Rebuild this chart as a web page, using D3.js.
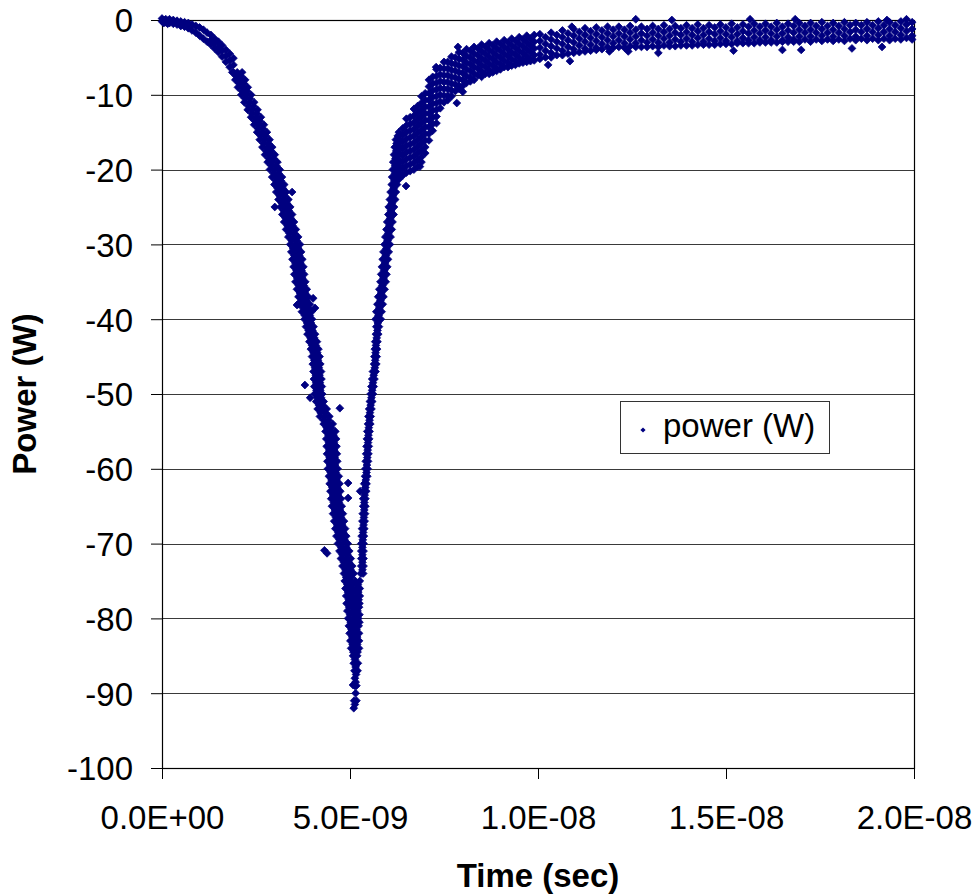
<!DOCTYPE html>
<html>
<head>
<meta charset="utf-8">
<script src="https://cdn.jsdelivr.net/npm/d3@7"></script>
<style>
  body { margin: 0; background: #fff; }
  text { font-family: Arial, "Liberation Sans", sans-serif; fill: #000; }
</style>
</head>
<body>
<div id="chart"></div>
<script>
// Power vs time scatter
// times are in ns, power in W

// early, nearly flat part: [t, p, p, ...]
var flatStart = [
  [0.0, 0.2, -0.2], [0.05, 0.0, -0.4], [0.1, 0.1, -0.3], [0.15, -0.1, -0.5],
  [0.2, 0.1, -0.4], [0.3, 0.0, -0.5], [0.4, -0.1, -0.6], [0.5, -0.2, -0.8],
  [0.6, -0.3, -0.9], [0.7, -0.4, -1.1], [0.8, -0.6, -1.4], [0.9, -0.8, -1.7],
  [1.0, -1.0, -2.1], [1.1, -1.3, -2.5], [1.2, -1.7, -2.9], [1.3, -2.0, -2.7, -3.3],
  [1.4, -2.5, -3.1, -3.8], [1.5, -2.9, -3.6, -4.3], [1.6, -3.4, -4.1, -4.9],
  [1.7, -4.0, -4.8, -5.6], [1.8, -4.5, -5.4, -6.3], [1.9, -5.1, -6.0, -7.0]
];

// falling edge, read by power level: [p, t, ...]
var leftBranch = [
  [-7, 1.87, 2.0, 2.13], [-7.5, 1.97, 2.1], [-8, 1.95, 2.08, 2.21], [-8.5, 2.05, 2.18],
  [-9, 2.02, 2.15, 2.28], [-9.5, 2.13, 2.26], [-10, 2.11, 2.24, 2.37], [-10.5, 2.21, 2.34],
  [-11, 2.19, 2.32, 2.45], [-11.5, 2.3, 2.43], [-12, 2.28, 2.41, 2.54], [-12.5, 2.39, 2.52],
  [-13, 2.37, 2.5, 2.63], [-13.5, 2.47, 2.6], [-14, 2.45, 2.58, 2.71], [-14.5, 2.55, 2.68],
  [-15, 2.53, 2.66, 2.79], [-15.5, 2.63, 2.76], [-16, 2.6, 2.73, 2.86], [-16.5, 2.7, 2.83],
  [-17, 2.67, 2.8, 2.93], [-17.5, 2.77, 2.9], [-18, 2.74, 2.87, 3.0], [-18.5, 2.84, 2.97],
  [-19, 2.81, 2.94, 3.07], [-19.5, 2.91, 3.04], [-20, 2.87, 3.0, 3.13], [-20.5, 2.97, 3.1],
  [-21, 2.93, 3.06, 3.19], [-21.5, 3.03, 3.16], [-22, 2.99, 3.12, 3.25], [-22.5, 3.08, 3.21],
  [-23, 3.04, 3.17, 3.3], [-23.5, 3.13, 3.26], [-24, 3.1, 3.23, 3.36], [-24.5, 3.19, 3.32],
  [-25, 3.15, 3.28, 3.41], [-25.5, 3.24, 3.37], [-26, 3.2, 3.33, 3.46], [-26.5, 3.29, 3.42],
  [-27, 3.25, 3.38, 3.51], [-27.5, 3.34, 3.47], [-28, 3.3, 3.43, 3.56], [-28.5, 3.39, 3.52],
  [-29, 3.36, 3.49, 3.62], [-29.5, 3.45, 3.58], [-30, 3.41, 3.54, 3.67], [-30.5, 3.49, 3.62],
  [-31, 3.44, 3.57, 3.7], [-31.5, 3.52, 3.65], [-32, 3.47, 3.6, 3.73], [-32.5, 3.55, 3.68],
  [-33, 3.5, 3.63, 3.76], [-33.5, 3.58, 3.71], [-34, 3.52, 3.65, 3.78], [-34.5, 3.6, 3.73],
  [-35, 3.55, 3.68, 3.81], [-35.5, 3.64, 3.77], [-36, 3.59, 3.72, 3.85], [-36.5, 3.67, 3.8],
  [-37, 3.63, 3.76, 3.89], [-37.5, 3.71, 3.84], [-38, 3.67, 3.8, 3.93], [-38.5, 3.76, 3.89],
  [-39, 3.72, 3.85, 3.98], [-39.5, 3.8, 3.93], [-40, 3.79, 3.89, 3.99], [-40.5, 3.86, 3.96],
  [-41, 3.83, 3.93, 4.03], [-41.5, 3.9, 4.0], [-42, 3.87, 3.97, 4.07], [-42.5, 3.95, 4.05],
  [-43, 3.92, 4.02, 4.12], [-43.5, 3.99, 4.09], [-44, 3.96, 4.06, 4.16], [-44.5, 4.03, 4.13],
  [-45, 3.99, 4.09, 4.19], [-45.5, 4.05, 4.15], [-46, 4.01, 4.11, 4.21], [-46.5, 4.07, 4.17],
  [-47, 4.03, 4.13, 4.23], [-47.5, 4.09, 4.19], [-48, 4.04, 4.14, 4.24], [-48.5, 4.1, 4.2],
  [-49, 4.05, 4.15, 4.25], [-49.5, 4.11, 4.21], [-50, 4.06, 4.16, 4.26], [-50.5, 4.13, 4.23],
  [-51, 4.1, 4.2, 4.3], [-51.5, 4.18, 4.28], [-52, 4.14, 4.26, 4.38], [-52.5, 4.22, 4.35],
  [-53, 4.2, 4.33, 4.45], [-53.5, 4.3, 4.43], [-54, 4.3, 4.42, 4.54], [-54.5, 4.38, 4.5],
  [-55, 4.35, 4.48, 4.61], [-55.5, 4.43, 4.56], [-56, 4.37, 4.5, 4.63], [-56.5, 4.44, 4.57],
  [-57, 4.38, 4.51, 4.64], [-57.5, 4.45, 4.58], [-58, 4.39, 4.52, 4.65], [-58.5, 4.46, 4.59],
  [-59, 4.4, 4.53, 4.66], [-59.5, 4.47, 4.6], [-60, 4.41, 4.54, 4.67], [-60.5, 4.49, 4.62],
  [-61, 4.44, 4.57, 4.7], [-61.5, 4.51, 4.64], [-62, 4.46, 4.59, 4.72], [-62.5, 4.53, 4.66],
  [-63, 4.48, 4.61, 4.74], [-63.5, 4.55, 4.68], [-64, 4.5, 4.63, 4.76], [-64.5, 4.57, 4.7],
  [-65, 4.52, 4.65, 4.78], [-65.5, 4.6, 4.73], [-66, 4.55, 4.68, 4.81], [-66.5, 4.63, 4.76],
  [-67, 4.58, 4.71, 4.84], [-67.5, 4.66, 4.79], [-68, 4.61, 4.74, 4.87], [-68.5, 4.69, 4.82],
  [-69, 4.64, 4.77, 4.9], [-69.5, 4.72, 4.85], [-70, 4.68, 4.81, 4.94], [-70.5, 4.77, 4.9],
  [-71, 4.72, 4.85, 4.98], [-71.5, 4.8, 4.93], [-72, 4.76, 4.89, 5.02], [-72.5, 4.84, 4.97],
  [-73, 4.8, 4.93, 5.06], [-73.5, 4.88, 5.01], [-74, 4.84, 4.97, 5.1], [-74.5, 4.9, 5.03]
];

// bottom of the dip where both edges meet: [p, t, ...]
var trough = [
  [-75, 4.86, 5.0, 5.14, 5.26], [-75.5, 4.93, 5.07, 5.21], [-76, 4.88, 5.02, 5.16, 5.26],
  [-76.5, 4.95, 5.09, 5.22], [-77, 4.9, 5.04, 5.18, 5.26], [-77.5, 4.97, 5.11, 5.23],
  [-78, 4.91, 5.05, 5.19, 5.25], [-78.5, 4.98, 5.12, 5.24], [-79, 4.93, 5.07, 5.2],
  [-79.5, 5.0, 5.14, 5.25], [-80, 4.95, 5.09, 5.22], [-80.5, 5.02, 5.15, 5.25],
  [-81, 4.97, 5.1, 5.23], [-81.5, 5.04, 5.17], [-82, 4.99, 5.12, 5.24], [-82.5, 5.06, 5.19],
  [-83, 5.01, 5.13, 5.24], [-83.5, 5.07, 5.19], [-84, 5.03, 5.14, 5.24], [-84.5, 5.09, 5.2],
  [-85, 5.08, 5.19], [-85.5, 5.13], [-86, 5.1, 5.21], [-86.5, 5.15], [-87, 5.12, 5.2],
  [-87.5, 5.16], [-88, 5.13], [-88.5, 5.15], [-89, 5.12, 5.17], [-90, 5.15],
  [-91, 5.11, 5.17], [-91.5, 5.13], [-92, 5.1]
];

// rising edge: [p, t, ...]
var rightBranch = [
  [-74, 5.29, 5.35], [-73.5, 5.33], [-73, 5.3, 5.36], [-72.5, 5.33], [-72, 5.3, 5.36],
  [-71.5, 5.33], [-71, 5.3, 5.36], [-70.5, 5.33], [-70, 5.3, 5.36], [-69.5, 5.34],
  [-69, 5.31, 5.37], [-68.5, 5.35], [-68, 5.32, 5.38], [-67.5, 5.36], [-67, 5.33, 5.39],
  [-66.5, 5.37], [-66, 5.34, 5.4], [-65.5, 5.38], [-65, 5.35, 5.41], [-64.5, 5.38],
  [-64, 5.35, 5.41], [-63.5, 5.39], [-63, 5.37, 5.43], [-62.5, 5.41], [-62, 5.38, 5.44],
  [-61.5, 5.42], [-61, 5.4, 5.46], [-60.5, 5.44], [-60, 5.41, 5.47], [-59.5, 5.45],
  [-59, 5.42, 5.48], [-58.5, 5.46], [-58, 5.43, 5.49], [-57.5, 5.47], [-57, 5.44, 5.5],
  [-56.5, 5.48], [-56, 5.45, 5.51], [-55.5, 5.49], [-55, 5.46, 5.52], [-54.5, 5.5],
  [-54, 5.48, 5.54], [-53.5, 5.52], [-53, 5.49, 5.55], [-52.5, 5.53], [-52, 5.51, 5.57],
  [-51.5, 5.55], [-51, 5.53, 5.59], [-50.5, 5.57], [-50, 5.55, 5.61], [-49.5, 5.59],
  [-49, 5.57, 5.63], [-48.5, 5.61], [-48, 5.59, 5.65], [-47.5, 5.63], [-47, 5.61, 5.68],
  [-46.5, 5.66], [-46, 5.64, 5.7], [-45.5, 5.67], [-45, 5.65, 5.71], [-44.5, 5.68],
  [-44, 5.66, 5.72], [-43.5, 5.69], [-43, 5.67, 5.73], [-42.5, 5.71], [-42, 5.69, 5.75],
  [-41.5, 5.73], [-41, 5.7, 5.77], [-40.5, 5.74], [-40, 5.68, 5.82], [-39.5, 5.76],
  [-39, 5.7, 5.84], [-38.5, 5.78], [-38, 5.73, 5.87], [-37.5, 5.81], [-37, 5.75, 5.89],
  [-36.5, 5.83], [-36, 5.78, 5.92], [-35.5, 5.86], [-35, 5.81, 5.95], [-34.5, 5.89],
  [-34, 5.83, 5.97], [-33.5, 5.91], [-33, 5.85, 5.99], [-32.5, 5.93], [-32, 5.87, 6.01],
  [-31.5, 5.95], [-31, 5.89, 6.03], [-30.5, 5.97], [-30, 5.92, 6.06], [-29.5, 6.0],
  [-29, 5.94, 6.08], [-28.5, 6.02], [-28, 5.97, 6.11], [-27.5, 6.05], [-27, 5.99, 6.13],
  [-26.5, 6.07], [-26, 6.02, 6.16], [-25.5, 6.09], [-25, 6.03, 6.17], [-24.5, 6.11],
  [-24, 6.06, 6.2], [-23.5, 6.14], [-23, 6.08, 6.22], [-22.5, 6.16], [-22, 6.11, 6.25],
  [-21.5, 6.18], [-21, 6.12, 6.26], [-20.5, 6.2], [-20, 6.14, 6.27], [-19.5, 6.2],
  [-19, 6.15, 6.28], [-18.5, 6.21], [-18, 6.17, 6.29], [-17.5, 6.23], [-17, 6.19, 6.3],
  [-16.5, 6.24], [-16, 6.22], [-15.5, 6.27]
];

// the knee where the recovery flattens out: [t, p, ...]
var knee = [
  [6.3, -15.0, -15.9, -16.8, -17.7, -18.6, -19.5, -20.4, -21.3],
  [6.4, -14.5, -15.4, -16.3, -17.2, -18.1, -19.0, -19.9, -20.8],
  [6.5, -13.2, -14.1, -15.0, -15.9, -16.8, -17.7, -18.6, -19.5, -20.4],
  [6.6, -13.0, -13.9, -14.8, -15.7, -16.6, -17.5, -18.4, -19.3, -20.2],
  [6.7, -11.9, -12.8, -13.7, -14.6, -15.5, -16.4, -17.3, -18.2, -19.1, -20.0],
  [6.8, -11.5, -12.4, -13.3, -14.2, -15.1, -16.0, -16.9, -17.8, -18.7, -19.6],
  [6.9, -10.2, -11.1, -12.0, -12.9, -13.8, -14.7, -15.6, -16.5, -17.4, -18.3, -19.0],
  [7.0, -9.8, -10.7, -11.6, -12.5, -13.4, -14.3, -15.2, -16.1, -17.0, -17.8],
  [7.1, -8.0, -8.9, -9.8, -10.7, -11.6, -12.5, -13.4, -14.3, -15.2, -16.1],
  [7.2, -7.6, -8.5, -9.4, -10.3, -11.2, -12.1, -13.0, -13.9, -14.8],
  [7.3, -6.6, -7.5, -8.4, -9.3, -10.2, -11.1, -12.0, -12.9, -13.8],
  [7.4, -6.4, -7.3, -8.2, -9.1, -10.0, -10.9, -11.8],
  [7.5, -5.6, -6.5, -7.4, -8.3, -9.2, -10.1, -11.0],
  [7.6, -5.6, -6.5, -7.4, -8.3, -9.2, -10.1, -10.7],
  [7.7, -4.9, -5.8, -6.7, -7.6, -8.5, -9.4, -10.2],
  [7.8, -5.0, -5.9, -6.8, -7.7, -8.6, -9.5],
  [7.9, -4.3, -5.2, -6.1, -7.0, -7.9, -8.8, -9.2],
  [8.0, -4.4, -5.3, -6.2, -7.1, -8.0, -8.8],
  [8.1, -3.9, -4.8, -5.7, -6.6, -7.5, -8.4],
  [8.2, -4.1, -5.0, -5.9, -6.8, -7.7, -8.2],
  [8.3, -3.6, -4.5, -5.4, -6.3, -7.2, -8.0],
  [8.4, -3.8, -4.7, -5.6, -6.5, -7.4],
  [8.5, -3.3, -4.2, -5.1, -6.0, -6.9, -7.6],
  [8.6, -3.6, -4.5, -5.4, -6.3, -7.2],
  [8.7, -3.1, -4.0, -4.9, -5.8, -6.7, -7.2],
  [8.8, -3.4, -4.3, -5.2, -6.1, -7.0],
  [8.9, -2.9, -3.8, -4.7, -5.6, -6.5, -6.8],
  [9.0, -3.2, -4.1, -5.0, -5.9, -6.6],
  [9.1, -2.7, -3.6, -4.5, -5.4, -6.3],
  [9.2, -3.0, -3.9, -4.8, -5.7, -6.3],
  [9.3, -2.5, -3.4, -4.3, -5.2, -6.1],
  [9.4, -2.8, -3.7, -4.6, -5.5, -6.0],
  [9.5, -2.3, -3.2, -4.1, -5.0, -5.8],
  [9.6, -2.6, -3.5, -4.4, -5.3, -5.7],
  [9.7, -2.1, -3.0, -3.9, -4.8, -5.6],
  [9.8, -2.5, -3.4, -4.3, -5.2, -5.5],
  [9.9, -2.0, -2.9, -3.8, -4.7, -5.4]
];

// long tail up to 20 ns: [t, p, ...]
var tail = [
  [10.05, -1.9, -2.8, -3.7, -4.6, -5.2], [10.2, -2.3, -3.2, -4.1, -5.0],
  [10.35, -1.7, -2.6, -3.5, -4.4, -5.0], [10.5, -2.0, -2.9, -3.8, -4.7],
  [10.65, -1.4, -2.3, -3.2, -4.1, -4.7], [10.8, -1.8, -2.7, -3.6, -4.5],
  [10.95, -1.2, -2.1, -3.0, -3.9, -4.4], [11.1, -1.6, -2.5, -3.4, -4.3],
  [11.25, -1.1, -2.0, -2.9, -3.8, -4.2], [11.4, -1.5, -2.4, -3.3, -4.1],
  [11.55, -1.0, -1.9, -2.8, -3.7, -4.0], [11.7, -1.4, -2.3, -3.2, -3.9],
  [11.85, -0.9, -1.8, -2.7, -3.6], [12.0, -1.3, -2.2, -3.1, -3.7],
  [12.15, -0.9, -1.8, -2.7, -3.6], [12.3, -1.3, -2.2, -3.1, -3.7],
  [12.45, -0.8, -1.7, -2.6, -3.5], [12.6, -1.3, -2.2, -3.1, -3.6],
  [12.75, -0.9, -1.8, -2.7, -3.6], [12.9, -1.2, -2.1, -3.0, -3.6],
  [13.05, -0.8, -1.7, -2.6, -3.5], [13.2, -1.2, -2.1, -3.0, -3.6],
  [13.35, -0.7, -1.6, -2.5, -3.4], [13.5, -1.2, -2.1, -3.0, -3.5],
  [13.65, -0.8, -1.7, -2.6, -3.5], [13.8, -1.1, -2.0, -2.9, -3.4],
  [13.95, -0.7, -1.6, -2.5, -3.4], [14.1, -1.1, -2.0, -2.9, -3.4],
  [14.25, -0.6, -1.5, -2.4, -3.3], [14.4, -1.1, -2.0, -2.9, -3.3],
  [14.55, -0.7, -1.6, -2.5, -3.3], [14.7, -1.0, -1.9, -2.8, -3.3],
  [14.85, -0.6, -1.5, -2.4, -3.2], [15.0, -1.0, -1.9, -2.8, -3.2],
  [15.15, -0.5, -1.4, -2.3, -3.2], [15.3, -1.0, -1.9, -2.8, -3.1],
  [15.45, -0.6, -1.5, -2.4, -3.1], [15.6, -0.9, -1.8, -2.7, -3.1],
  [15.75, -0.5, -1.4, -2.3, -3.1], [15.9, -0.9, -1.8, -2.7, -3.0],
  [16.05, -0.5, -1.4, -2.3, -3.0], [16.2, -0.9, -1.8, -2.7, -3.0],
  [16.35, -0.4, -1.3, -2.2, -3.0], [16.5, -0.9, -1.8, -2.7, -2.9],
  [16.65, -0.5, -1.4, -2.3, -2.9], [16.8, -0.8, -1.7, -2.6, -2.9],
  [16.95, -0.4, -1.3, -2.2, -2.9], [17.1, -0.8, -1.7, -2.6],
  [17.25, -0.4, -1.3, -2.2, -2.9], [17.4, -0.8, -1.7, -2.6],
  [17.55, -0.3, -1.2, -2.1, -2.8], [17.7, -0.8, -1.7, -2.6],
  [17.85, -0.4, -1.3, -2.2, -2.8], [18.0, -0.8, -1.7, -2.6],
  [18.15, -0.3, -1.2, -2.1, -2.8], [18.3, -0.7, -1.6, -2.5],
  [18.45, -0.4, -1.3, -2.2, -2.7], [18.6, -0.7, -1.6, -2.5],
  [18.75, -0.3, -1.2, -2.1, -2.7], [18.9, -0.7, -1.6, -2.5],
  [19.05, -0.2, -1.1, -2.0, -2.7], [19.2, -0.7, -1.6, -2.5],
  [19.35, -0.3, -1.2, -2.1, -2.7], [19.5, -0.7, -1.6, -2.5],
  [19.65, -0.2, -1.1, -2.0, -2.6], [19.8, -0.6, -1.5, -2.4],
  [19.95, -0.3, -1.2, -2.1, -2.6]
];

// isolated points outside the main band: [t, p]
var strays = [
  [3.0, -25.0], [3.46, -23.0], [3.59, -38.1], [3.62, -38.0], [4.02, -37.2], [4.07, -38.5],
  [3.8, -48.8], [3.94, -50.5], [4.73, -51.9], [4.32, -70.9], [4.39, -71.3], [4.95, -61.9],
  [4.95, -63.9], [5.27, -63.0], [5.4, -61.9], [5.08, -88.9],
  [6.49, -22.2], [6.86, -19.6], [7.29, -6.3], [7.84, -11.1], [8.0, -9.6], [7.87, -3.6],
  [10.27, -6.0], [10.85, -5.5], [10.9, -0.9],
  [11.9, -4.2], [12.4, -4.2], [13.2, -4.4], [15.2, -4.1], [16.5, -4.0], [17.0, -4.0],
  [18.35, -3.8], [19.15, -3.6],
  [12.6, 0.1], [13.56, 0.0], [15.64, 0.1], [16.84, 0.1], [19.28, 0.0], [19.8, 0.1]
];

var xTicks = [0, 5e-9, 1e-8, 1.5e-8, 2e-8];
var yTicks = [0, -10, -20, -30, -40, -50, -60, -70, -80, -90, -100];
var seriesName = "power (W)";

(function() {
  var margin = { top: 20, left: 162, right: 63, bottom: 126 },
    width = 977 - margin.left - margin.right,
    height = 894 - margin.top - margin.bottom;

  var svg = d3.select("#chart")
    .append("svg")
    .attr("width", width + margin.left + margin.right)
    .attr("height", height + margin.top + margin.bottom)
    .style("display", "block");

  var g = svg.append("g")
    .attr("transform", "translate(" + margin.left + "," + margin.top + ")");

  var xScale = d3.scaleLinear().domain([0, 2e-8]).range([0, width]);
  var yScale = d3.scaleLinear().domain([-100, 0]).range([height, 0]);

  // Excel style labels like 5.0E-09
  function sci(v) {
    var m = v.toExponential(1).toUpperCase().match(/^(.*)E([+-])(\d+)$/);
    return m[1] + "E" + m[2] + (m[3].length < 2 ? "0" + m[3] : m[3]);
  }

  // put all the rows into one list of points
  var points = [];
  flatStart.concat(knee, tail).forEach(function(row) {
    row.slice(1).forEach(function(p) { points.push({ t: row[0] * 1e-9, p: p }); });
  });
  leftBranch.concat(trough, rightBranch).forEach(function(row) {
    row.slice(1).forEach(function(t) { points.push({ t: t * 1e-9, p: row[0] }); });
  });
  strays.forEach(function(d) { points.push({ t: d[0] * 1e-9, p: d[1] }); });

  // horizontal gridlines
  g.selectAll(".grid")
    .data(yTicks.filter(function(d) { return d > -100 && d < 0; }))
    .enter().append("line")
    .attr("x1", 0)
    .attr("x2", width)
    .attr("y1", function(d) { return Math.round(yScale(d)) + 0.5; })
    .attr("y2", function(d) { return Math.round(yScale(d)) + 0.5; })
    .attr("stroke", "#3a3a3a")
    .attr("stroke-width", 1);

  // plot frame
  g.append("rect")
    .attr("x", 0.5)
    .attr("y", 0.5)
    .attr("width", width)
    .attr("height", height)
    .attr("fill", "none")
    .attr("stroke", "#000")
    .attr("stroke-width", 1.2);

  // axes
  var xAxis = g.append("g")
    .attr("transform", "translate(0," + height + ")")
    .call(d3.axisBottom(xScale).tickValues(xTicks).tickFormat(sci)
      .tickSize(11).tickPadding(27).tickSizeOuter(0));

  // plain hyphen minus, like the original
  var yAxis = g.append("g")
    .call(d3.axisLeft(yScale).tickValues(yTicks).tickFormat(function(d) { return String(d); })
      .tickSize(11).tickPadding(18).tickSizeOuter(0));

  [xAxis, yAxis].forEach(function(ax) {
    ax.select(".domain").remove();
    ax.selectAll("line").attr("stroke", "#000");
    ax.selectAll("text")
      .attr("font-size", 33)
      .attr("font-family", "Arial, 'Liberation Sans', sans-serif")
      .attr("fill", "#000");
  });
  yAxis.selectAll("text").attr("dy", "0.36em");

  // the markers, navy diamonds with a thin outline
  var diamond = "M0,-3.9L3.9,0L0,3.9L-3.9,0Z";
  g.selectAll(".pt")
    .data(points)
    .enter().append("path")
    .attr("class", "pt")
    .attr("d", diamond)
    .attr("transform", function(d) {
      return "translate(" + xScale(d.t) + "," + yScale(d.p) + ")";
    })
    .attr("fill", "#000080")
    .attr("stroke", "#000080")
    .attr("stroke-width", 0.8);

  // axis titles
  svg.append("text")
    .text("Time (sec)")
    .attr("x", margin.left + width / 2)
    .attr("y", 887)
    .attr("text-anchor", "middle")
    .attr("font-weight", "bold")
    .attr("font-size", 33);

  svg.append("text")
    .text("Power (W)")
    .attr("transform", "translate(36," + (margin.top + height / 2) + ") rotate(-90)")
    .attr("text-anchor", "middle")
    .attr("font-weight", "bold")
    .attr("font-size", 33);

  // legend
  var legend = svg.append("g").attr("transform", "translate(620,401)");
  legend.append("rect")
    .attr("x", 0.5)
    .attr("y", 0.5)
    .attr("width", 209)
    .attr("height", 52)
    .attr("fill", "#fff")
    .attr("stroke", "#333")
    .attr("stroke-width", 1);
  legend.append("path")
    .attr("d", "M0,-2.6L2.6,0L0,2.6L-2.6,0Z")
    .attr("transform", "translate(23,29)")
    .attr("fill", "#000080");
  legend.append("text")
    .text(seriesName)
    .attr("x", 43)
    .attr("y", 36)
    .attr("font-size", 33);
})();
</script>
</body>
</html>
